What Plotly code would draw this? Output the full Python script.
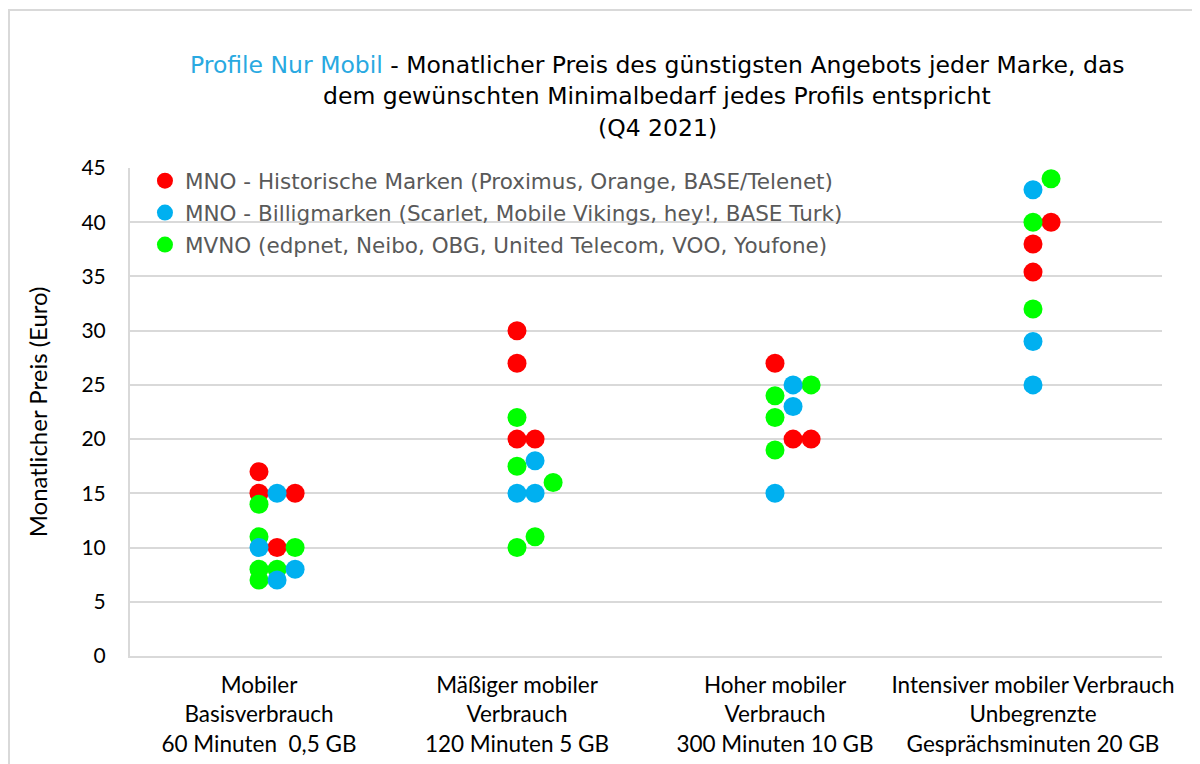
import plotly.graph_objects as go

# ---- data ----
categories = [
    "Mobiler<br>Basisverbrauch<br>60 Minuten  0,5 GB",
    "Mäßiger mobiler<br>Verbrauch<br>120 Minuten 5 GB",
    "Hoher mobiler<br>Verbrauch<br>300 Minuten 10 GB",
    "Intensiver mobiler Verbrauch<br>Unbegrenzte<br>Gesprächsminuten 20 GB",
]
y_ticks = [0, 5, 10, 15, 20, 25, 30, 35, 40, 45]

red_name = "MNO - Historische Marken (Proximus, Orange, BASE/Telenet)"
red_cat = [0, 0, 0, 0, 1, 1, 1, 1, 2, 2, 2, 3, 3, 3]
red_val = [17, 15, 15, 10, 30, 27, 20, 20, 27, 20, 20, 40, 38, 35.4]
red_slot = [0, 0, 2, 1, 0, 0, 0, 1, 0, 1, 2, 1, 0, 0]

blue_name = "MNO - Billigmarken (Scarlet, Mobile Vikings, hey!, BASE Turk)"
blue_cat = [0, 0, 0, 0, 1, 1, 1, 2, 2, 2, 3, 3, 3]
blue_val = [15, 10, 8, 7, 18, 15, 15, 25, 23, 15, 43, 29, 25]
blue_slot = [1, 0, 2, 1, 1, 0, 1, 1, 1, 0, 0, 0, 0]

green_name = "MVNO (edpnet, Neibo, OBG, United Telecom, VOO, Youfone)"
green_cat = [0, 0, 0, 0, 0, 0, 1, 1, 1, 1, 1, 2, 2, 2, 2, 3, 3, 3]
green_val = [14, 11, 10, 8, 8, 7, 22, 17.5, 16, 11, 10, 25, 24, 22, 19, 44, 40, 32]
green_slot = [0, 0, 2, 0, 1, 0, 0, 0, 2, 1, 0, 2, 0, 0, 0, 1, 0, 0]

# ---- style ----
SLOT_W = 0.07
RED, BLUE, GREEN = "#FF0000", "#00B0F0", "#00FF00"
GRID = "#D9D9D9"
TICK_FONT = "Lato, Carlito, sans-serif"
TITLE_FONT = "DejaVu Sans, Verdana, sans-serif"

# page offset (body margin) is 8px; plot area target: x 130..1162, y 168..656
OFF = 8
PL, PR, PT, PB = 130, 1162, 168, 656
PW, PH = PR - PL, PB - PT


def make_trace(name, cats, vals, slots, color, rank):
    pts = sorted(zip(cats, vals, slots), key=lambda p: -p[1])
    xs = [c + s * SLOT_W for c, v, s in pts]
    ys = [v for c, v, s in pts]
    return go.Scatter(
        x=xs, y=ys, mode="markers", name=name,
        legendgroup=name, legendrank=rank,
        marker=dict(size=19, color=color, line=dict(width=0)),
        hoverinfo="y+name",
    )


fig = go.Figure()
fig.add_trace(make_trace(red_name, red_cat, red_val, red_slot, RED, 1))
fig.add_trace(make_trace(green_name, green_cat, green_val, green_slot, GREEN, 3))
fig.add_trace(make_trace(blue_name, blue_cat, blue_val, blue_slot, BLUE, 2))

W, H = 1192, 756
fig.update_layout(
    width=W, height=H,
    margin=dict(l=PL - OFF, r=W + OFF - PR, t=PT - OFF, b=H + OFF - PB,
                autoexpand=False),
    paper_bgcolor="white", plot_bgcolor="white",
    showlegend=True,
    legend=dict(
        x=0.0145, y=1.016, xanchor="left", yanchor="top",
        bgcolor="rgba(0,0,0,0)",
        font=dict(family=TITLE_FONT, size=21.5, color="#595959"),
        traceorder="grouped", tracegroupgap=1,
        itemsizing="trace",
    ),
)

fig.update_xaxes(
    range=[-0.5, 3.5], automargin=False,
    tickmode="array", tickvals=list(range(len(categories))), ticktext=categories,
    showgrid=False, zeroline=False,
    showline=True, linecolor=GRID, linewidth=2,
    ticks="", ticklabelstandoff=8,
    tickfont=dict(family=TICK_FONT, size=22.5, color="black"),
)
fig.update_yaxes(
    range=[0, 45], automargin=False,
    tickmode="array", tickvals=y_ticks,
    showgrid=True, gridcolor=GRID, gridwidth=2,
    zeroline=False,
    showline=True, linecolor=GRID, linewidth=2,
    ticks="", ticklabelstandoff=18,
    tickfont=dict(family=TICK_FONT, size=21, color="black"),
    title=dict(text="Monatlicher Preis (Euro)", standoff=27,
               font=dict(family=TICK_FONT, size=24, color="black")),
)

# title as three lines
title_lines = [
    "<span style='color:#29A9E1'>Profile Nur Mobil</span> - Monatlicher Preis des günstigsten Angebots jeder Marke, das",
    "dem gewünschten Minimalbedarf jedes Profils entspricht",
    "(Q4 2021)",
]
title_y_px = [65, 96, 128]
for txt, ypx in zip(title_lines, title_y_px):
    fig.add_annotation(
        text=txt, xref="paper", yref="paper",
        x=(657 - PL) / PW, y=(PB - ypx) / PH,
        xanchor="center", yanchor="middle", showarrow=False,
        font=dict(family=TITLE_FONT, size=23.5, color="black"),
    )

# outer chart border (top and left visible)
fig.add_shape(
    type="rect", xref="paper", yref="paper",
    x0=(9 - PL) / PW, x1=(1215 - PL) / PW,
    y0=(PB - 780) / PH, y1=(PB - 10) / PH,
    line=dict(color=GRID, width=2), fillcolor="rgba(0,0,0,0)", layer="below",
)

fig.write_html("out.html")
